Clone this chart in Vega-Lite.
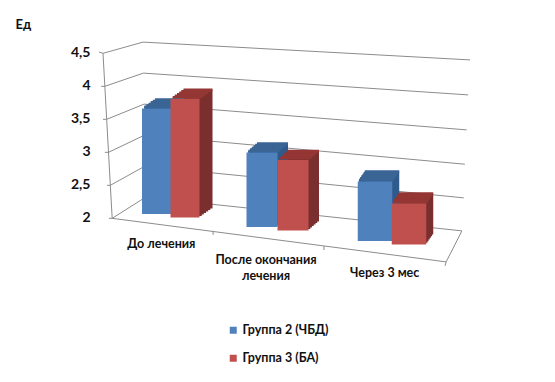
{
"$schema":"https://vega.github.io/schema/vega-lite/v6.json",
"width":452,"height":165,"autosize":"none",
"padding":{"left":103,"top":52,"right":0,"bottom":165},
"background":"white",
"config":{"view":{"stroke":null},"font":"Lato"},
"params":[
{"name":"catX","value":{"До лечения":38,"После окончания лечения":143.5,"Через 3 мес":256.5}},
{"name":"redX","value":{"До лечения":-2.5,"После окончания лечения":0,"Через 3 мес":3}},
{"name":"catW","value":{"До лечения":29,"После окончания лечения":31,"Через 3 мес":34.5}},
{"name":"catY","value":{"До лечения":-3,"После окончания лечения":10,"Через 3 мес":24}},
{"name":"depX","value":{"До лечения":13,"После окончания лечения":10.5,"Через 3 мес":7}},
{"name":"depY","value":{"До лечения":-9,"После окончания лечения":-9,"Через 3 мес":-10}},
{"name":"labX","value":{"До лечения":-9,"После окончания лечения":-15,"Через 3 мес":-7}},
{"name":"labY","value":{"До лечения":27,"После окончания лечения":43,"Через 3 мес":56}}
],
"layer":[
{"data":{"values":[
{"line":"g45","along":-1.1,"reading":4.5},{"line":"g45","along":0,"reading":4.48},{"line":"g45","along":10.9,"reading":4.65},{"line":"g45","along":100,"reading":4.38},
{"line":"g40","along":-0.5,"reading":3.98},{"line":"g40","along":0.5,"reading":3.98},{"line":"g40","along":11,"reading":4.18},{"line":"g40","along":99.5,"reading":3.85},
{"line":"g35","along":0,"reading":3.48},{"line":"g35","along":1,"reading":3.48},{"line":"g35","along":11.2,"reading":3.71},{"line":"g35","along":99.1,"reading":3.32},
{"line":"g30","along":0.5,"reading":2.98},{"line":"g30","along":1.5,"reading":2.98},{"line":"g30","along":11.3,"reading":3.24},{"line":"g30","along":98.6,"reading":2.8},
{"line":"g25","along":1.1,"reading":2.48},{"line":"g25","along":2,"reading":2.48},{"line":"g25","along":11.4,"reading":2.77},{"line":"g25","along":98.3,"reading":2.29},
{"line":"g20","along":1.6,"reading":1.98},{"line":"g20","along":2.5,"reading":1.98},{"line":"g20","along":11.6,"reading":2.3},{"line":"g20","along":97.8,"reading":1.79},
{"line":"axis","along":0,"reading":4.48},{"line":"axis","along":2.5,"reading":1.98},
{"line":"front","along":2.5,"reading":1.98},{"line":"front","along":93.5,"reading":1.32},
{"line":"edge","along":93.5,"reading":1.32},{"line":"edge","along":97.8,"reading":1.79},
{"line":"t1","along":30,"reading":1.79},{"line":"t1","along":30,"reading":1.73},
{"line":"t2","along":60.2,"reading":1.56},{"line":"t2","along":60.2,"reading":1.5},
{"line":"t3","along":93.5,"reading":1.32},{"line":"t3","along":93.2,"reading":1.26}
]},
"mark":{"type":"line","color":"#8c8c8c","strokeWidth":1},
"encoding":{
"x":{"field":"along","type":"quantitative","scale":{"domain":[0,100],"range":[0,367],"zero":false,"nice":false},"axis":null},
"y":{"field":"reading","type":"quantitative","scale":{"domain":[2,4.5],"range":[165,0],"zero":false,"nice":false},
"axis":{"values":[2,2.5,3,3.5,4,4.5],"format":".1~f","labelExpr":"replace(datum.label,'.',',')","ticks":false,"domain":false,"grid":false,"labelPadding":13,"labelFont":"Lato","labelFontWeight":"bold","labelFontSize":14,"labelColor":"#111111","title":"Ед","titleAngle":0,"titleAlign":"left","titleBaseline":"middle","titleX":-88,"titleY":-28,"titleFont":"Lato","titleFontSize":13,"titleFontWeight":"bold","titleColor":"#111111","encode":{"labels":{"update":{"dx":{"signal":"(4.5-datum.value)*3.6"},"dy":{"value":1.2}}}}}},
"detail":{"field":"line"}}},
{"data":{"values":[
{"category":"До лечения","group":"Группа 2 (ЧБД)","value":3.6},
{"category":"До лечения","group":"Группа 3 (БА)","value":3.8},
{"category":"После окончания лечения","group":"Группа 2 (ЧБД)","value":3.13},
{"category":"После окончания лечения","group":"Группа 3 (БА)","value":3.07},
{"category":"Через 3 мес","group":"Группа 2 (ЧБД)","value":2.9},
{"category":"Через 3 мес","group":"Группа 3 (БА)","value":2.62}
]},
"encoding":{
"x":{"field":"group","type":"nominal","sort":null,"scale":{"domain":["Группа 2 (ЧБД)","Группа 3 (БА)"],"range":[0,62],"paddingInner":0,"paddingOuter":0},"axis":null},
"y":{"field":"value","type":"quantitative","axis":null}
},
"layer":[
{"mark":{"type":"bar","width":{"expr":"catW[datum.category]"},"fill":{"expr":"datum.group=='Группа 2 (ЧБД)'?'#2f5a8c':'#7a2f2e'"},"xOffset":{"expr":"catX[datum.category]+(datum.group=='Группа 3 (БА)'?redX[datum.category]:0)+0.17*depX[datum.category]"},"yOffset":{"expr":"catY[datum.category]+(datum.group=='Группа 3 (БА)'?3.5:0)+0.17*depY[datum.category]"},"y2Offset":{"expr":"catY[datum.category]+(datum.group=='Группа 3 (БА)'?3.5:0)+0.17*depY[datum.category]"}},"encoding":{"y2":{"datum":2}}},
{"mark":{"type":"bar","width":{"expr":"catW[datum.category]"},"fill":{"expr":"datum.group=='Группа 2 (ЧБД)'?'#2f5a8c':'#7a2f2e'"},"xOffset":{"expr":"catX[datum.category]+(datum.group=='Группа 3 (БА)'?redX[datum.category]:0)+0.33*depX[datum.category]"},"yOffset":{"expr":"catY[datum.category]+(datum.group=='Группа 3 (БА)'?3.5:0)+0.33*depY[datum.category]"},"y2Offset":{"expr":"catY[datum.category]+(datum.group=='Группа 3 (БА)'?3.5:0)+0.33*depY[datum.category]"}},"encoding":{"y2":{"datum":2}}},
{"mark":{"type":"bar","width":{"expr":"catW[datum.category]"},"fill":{"expr":"datum.group=='Группа 2 (ЧБД)'?'#2f5a8c':'#7a2f2e'"},"xOffset":{"expr":"catX[datum.category]+(datum.group=='Группа 3 (БА)'?redX[datum.category]:0)+0.5*depX[datum.category]"},"yOffset":{"expr":"catY[datum.category]+(datum.group=='Группа 3 (БА)'?3.5:0)+0.5*depY[datum.category]"},"y2Offset":{"expr":"catY[datum.category]+(datum.group=='Группа 3 (БА)'?3.5:0)+0.5*depY[datum.category]"}},"encoding":{"y2":{"datum":2}}},
{"mark":{"type":"bar","width":{"expr":"catW[datum.category]"},"fill":{"expr":"datum.group=='Группа 2 (ЧБД)'?'#2f5a8c':'#7a2f2e'"},"xOffset":{"expr":"catX[datum.category]+(datum.group=='Группа 3 (БА)'?redX[datum.category]:0)+0.67*depX[datum.category]"},"yOffset":{"expr":"catY[datum.category]+(datum.group=='Группа 3 (БА)'?3.5:0)+0.67*depY[datum.category]"},"y2Offset":{"expr":"catY[datum.category]+(datum.group=='Группа 3 (БА)'?3.5:0)+0.67*depY[datum.category]"}},"encoding":{"y2":{"datum":2}}},
{"mark":{"type":"bar","width":{"expr":"catW[datum.category]"},"fill":{"expr":"datum.group=='Группа 2 (ЧБД)'?'#2f5a8c':'#7a2f2e'"},"xOffset":{"expr":"catX[datum.category]+(datum.group=='Группа 3 (БА)'?redX[datum.category]:0)+0.83*depX[datum.category]"},"yOffset":{"expr":"catY[datum.category]+(datum.group=='Группа 3 (БА)'?3.5:0)+0.83*depY[datum.category]"},"y2Offset":{"expr":"catY[datum.category]+(datum.group=='Группа 3 (БА)'?3.5:0)+0.83*depY[datum.category]"}},"encoding":{"y2":{"datum":2}}},
{"mark":{"type":"bar","width":{"expr":"catW[datum.category]"},"fill":{"expr":"datum.group=='Группа 2 (ЧБД)'?'#2f5a8c':'#7a2f2e'"},"xOffset":{"expr":"catX[datum.category]+(datum.group=='Группа 3 (БА)'?redX[datum.category]:0)+depX[datum.category]"},"yOffset":{"expr":"catY[datum.category]+(datum.group=='Группа 3 (БА)'?3.5:0)+depY[datum.category]"},"y2Offset":{"expr":"catY[datum.category]+(datum.group=='Группа 3 (БА)'?3.5:0)+depY[datum.category]"}},"encoding":{"y2":{"datum":2}}},
{"mark":{"type":"bar","width":{"expr":"catW[datum.category]"},"strokeWidth":2.5,"stroke":{"expr":"datum.group=='Группа 2 (ЧБД)'?'#3a6595':'#943634'"},"xOffset":{"expr":"catX[datum.category]+(datum.group=='Группа 3 (БА)'?redX[datum.category]:0)+0.17*depX[datum.category]"},"yOffset":{"expr":"catY[datum.category]+(datum.group=='Группа 3 (БА)'?3.5:0)+0.17*depY[datum.category]"},"y2Offset":{"expr":"catY[datum.category]+(datum.group=='Группа 3 (БА)'?3.5:0)+0.17*depY[datum.category]"}},"encoding":{"y2":{"field":"value"}}},
{"mark":{"type":"bar","width":{"expr":"catW[datum.category]"},"strokeWidth":2.5,"stroke":{"expr":"datum.group=='Группа 2 (ЧБД)'?'#3a6595':'#943634'"},"xOffset":{"expr":"catX[datum.category]+(datum.group=='Группа 3 (БА)'?redX[datum.category]:0)+0.33*depX[datum.category]"},"yOffset":{"expr":"catY[datum.category]+(datum.group=='Группа 3 (БА)'?3.5:0)+0.33*depY[datum.category]"},"y2Offset":{"expr":"catY[datum.category]+(datum.group=='Группа 3 (БА)'?3.5:0)+0.33*depY[datum.category]"}},"encoding":{"y2":{"field":"value"}}},
{"mark":{"type":"bar","width":{"expr":"catW[datum.category]"},"strokeWidth":2.5,"stroke":{"expr":"datum.group=='Группа 2 (ЧБД)'?'#3a6595':'#943634'"},"xOffset":{"expr":"catX[datum.category]+(datum.group=='Группа 3 (БА)'?redX[datum.category]:0)+0.5*depX[datum.category]"},"yOffset":{"expr":"catY[datum.category]+(datum.group=='Группа 3 (БА)'?3.5:0)+0.5*depY[datum.category]"},"y2Offset":{"expr":"catY[datum.category]+(datum.group=='Группа 3 (БА)'?3.5:0)+0.5*depY[datum.category]"}},"encoding":{"y2":{"field":"value"}}},
{"mark":{"type":"bar","width":{"expr":"catW[datum.category]"},"strokeWidth":2.5,"stroke":{"expr":"datum.group=='Группа 2 (ЧБД)'?'#3a6595':'#943634'"},"xOffset":{"expr":"catX[datum.category]+(datum.group=='Группа 3 (БА)'?redX[datum.category]:0)+0.67*depX[datum.category]"},"yOffset":{"expr":"catY[datum.category]+(datum.group=='Группа 3 (БА)'?3.5:0)+0.67*depY[datum.category]"},"y2Offset":{"expr":"catY[datum.category]+(datum.group=='Группа 3 (БА)'?3.5:0)+0.67*depY[datum.category]"}},"encoding":{"y2":{"field":"value"}}},
{"mark":{"type":"bar","width":{"expr":"catW[datum.category]"},"strokeWidth":2.5,"stroke":{"expr":"datum.group=='Группа 2 (ЧБД)'?'#3a6595':'#943634'"},"xOffset":{"expr":"catX[datum.category]+(datum.group=='Группа 3 (БА)'?redX[datum.category]:0)+0.83*depX[datum.category]"},"yOffset":{"expr":"catY[datum.category]+(datum.group=='Группа 3 (БА)'?3.5:0)+0.83*depY[datum.category]"},"y2Offset":{"expr":"catY[datum.category]+(datum.group=='Группа 3 (БА)'?3.5:0)+0.83*depY[datum.category]"}},"encoding":{"y2":{"field":"value"}}},
{"mark":{"type":"bar","width":{"expr":"catW[datum.category]"},"strokeWidth":2.5,"stroke":{"expr":"datum.group=='Группа 2 (ЧБД)'?'#3a6595':'#943634'"},"xOffset":{"expr":"catX[datum.category]+(datum.group=='Группа 3 (БА)'?redX[datum.category]:0)+depX[datum.category]"},"yOffset":{"expr":"catY[datum.category]+(datum.group=='Группа 3 (БА)'?3.5:0)+depY[datum.category]"},"y2Offset":{"expr":"catY[datum.category]+(datum.group=='Группа 3 (БА)'?3.5:0)+depY[datum.category]"}},"encoding":{"y2":{"field":"value"}}},
{"mark":{"type":"bar","width":{"expr":"catW[datum.category]"},"xOffset":{"expr":"catX[datum.category]+(datum.group=='Группа 3 (БА)'?redX[datum.category]:0)"},"yOffset":{"expr":"catY[datum.category]+(datum.group=='Группа 3 (БА)'?3.5:0)"},"y2Offset":{"expr":"catY[datum.category]+(datum.group=='Группа 3 (БА)'?3.5:0)"}},
"encoding":{"y2":{"datum":2},
"color":{"field":"group","type":"nominal","scale":{"domain":["Группа 2 (ЧБД)","Группа 3 (БА)"],"range":["#4f81bd","#c0504d"]},
"legend":{"orient":"none","legendX":124,"legendY":272,"title":null,"symbolType":"square","symbolSize":49,"symbolStrokeWidth":0,"labelFont":"Lato","labelFontSize":12.5,"labelFontWeight":"bold","labelColor":"#111111","rowPadding":15,"labelOffset":3}}}}
]},
{"data":{"values":[
{"category":"До лечения","label":"До лечения"},
{"category":"После окончания лечения","label":"После окончания\nлечения"},
{"category":"Через 3 мес","label":"Через 3 мес"}
]},
"mark":{"type":"text","lineBreak":"\n","lineHeight":16,"font":"Lato","fontSize":12.5,"fontWeight":"bold","color":"#111111","xOffset":{"expr":"labX[datum.category]"},"yOffset":{"expr":"labY[datum.category]"}},
"encoding":{
"x":{"field":"category","type":"nominal","sort":null,"scale":{"domain":["До лечения","После окончания лечения","Через 3 мес"],"range":[12,344],"paddingInner":0,"paddingOuter":0},"axis":null},
"y":{"datum":2,"type":"quantitative","axis":null},
"text":{"field":"label"}}}
],
"resolve":{"scale":{"x":"independent"},"axis":{"y":"independent"}}
}
